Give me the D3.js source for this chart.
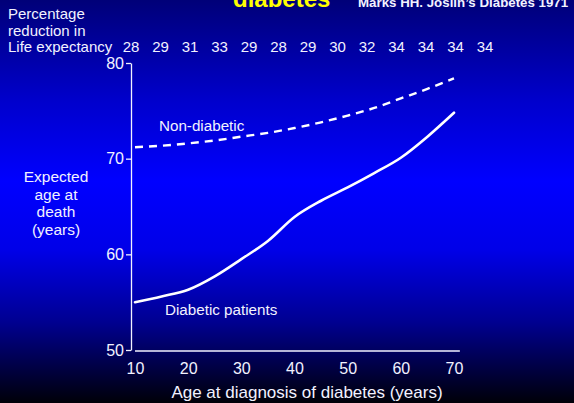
<!DOCTYPE html>
<html>
<head>
<meta charset="utf-8">
<script src="https://cdn.jsdelivr.net/npm/d3@7"></script>
<style>
  html, body { margin: 0; padding: 0; background: #000; }
  svg { display: block; }
  text { font-family: "Liberation Sans", Arial, sans-serif; fill: #f2f2ff; }
</style>
</head>
<body>
<svg id="chart" width="574" height="403"></svg>
<script>
// Age at diagnosis of diabetes (years), 5-year steps
const ages = [10, 15, 20, 25, 30, 35, 40, 45, 50, 55, 60, 65, 70];
// Expected age at death (years)
const nonDiabetic = [71.2, 71.35, 71.6, 71.9, 72.3, 72.7, 73.2, 73.8, 74.5, 75.3, 76.3, 77.3, 78.4];
const diabetic    = [55.0, 55.6, 56.3, 57.7, 59.5, 61.4, 63.9, 65.6, 67.0, 68.5, 70.1, 72.3, 74.8];
// Percentage reduction in life expectancy
const reduction = [28, 29, 31, 33, 29, 28, 29, 30, 32, 34, 34, 34, 34];
const xTicks = [10, 20, 30, 40, 50, 60, 70];
const yTicks = [50, 60, 70, 80];

const svg = d3.select("#chart");
const W = 574, H = 403;

// background gradient
const defs = svg.append("defs");
const grad = defs.append("linearGradient").attr("id", "bg")
  .attr("x1", 0).attr("y1", 0).attr("x2", 0).attr("y2", 1);
[[0, "#000078"], [0.25, "#0000cc"], [0.45, "#0000ff"], [0.62, "#0000e8"], [0.8, "#000090"], [1, "#000008"]]
  .forEach(([o, c]) => grad.append("stop").attr("offset", o).attr("stop-color", c));
svg.append("rect").attr("width", W).attr("height", H).attr("fill", "url(#bg)");

// header
svg.append("text").attr("x", 233).attr("y", 6.5)
  .style("font-size", "24px").style("font-weight", "bold").style("fill", "#ffff00")
  .text("diabetes");
svg.append("text").attr("x", 358).attr("y", 6.5)
  .style("font-size", "13.3px").style("font-weight", "bold")
  .text("Marks HH. Joslin\u2019s Diabetes 1971");

// scales
const x = d3.scaleLinear().domain([10, 70]).range([135, 454]);
const y = d3.scaleLinear().domain([50, 80]).range([350, 63]);

// y axis
const yAxis = svg.append("g").attr("transform", "translate(131,0)")
  .call(d3.axisLeft(y).tickValues(yTicks).tickSize(5).tickPadding(2).tickSizeOuter(0));
yAxis.selectAll("path, line").attr("stroke", "#f2f2ff").attr("stroke-width", 1.3);
yAxis.selectAll("text").style("font-size", "16px").style("fill", "#f2f2ff")
  .attr("font-family", null);

// x axis: labels only, baseline line drawn separately
const xAxis = svg.append("g").attr("transform", "translate(0,351)")
  .call(d3.axisBottom(x).tickValues(xTicks).tickSize(0).tickPadding(12));
xAxis.select(".domain").remove();
xAxis.selectAll("text").style("font-size", "16px").style("fill", "#f2f2ff")
  .attr("font-family", null);
svg.append("line")
  .attr("x1", x(10)).attr("x2", x(71.1)).attr("y1", 351).attr("y2", 351)
  .attr("stroke", "#f2f2ff").attr("stroke-width", 1.3);

// axis titles
svg.append("text").attr("x", 307).attr("y", 398).attr("text-anchor", "middle")
  .style("font-size", "17px").text("Age at diagnosis of diabetes (years)");
const yTitle = ["Expected", "age at", "death", "(years)"];
svg.append("g").selectAll("text").data(yTitle).join("text")
  .attr("x", 56).attr("y", (d, i) => 182 + i * 17.5).attr("text-anchor", "middle")
  .style("font-size", "15.5px").text(d => d);

// reduction row
const headLines = ["Percentage", "reduction in", "Life expectancy"];
svg.append("g").selectAll("text").data(headLines).join("text")
  .attr("x", 8).attr("y", (d, i) => 19 + i * 16.5)
  .style("font-size", "15px").text(d => d);
const px = d3.scalePoint().domain(d3.range(reduction.length)).range([131, 485]);
svg.append("g").selectAll("text").data(reduction).join("text")
  .attr("x", (d, i) => px(i)).attr("y", 52).attr("text-anchor", "middle")
  .style("font-size", "15px").text(d => d);

// curves
const line = d3.line().x(d => x(d[0])).y(d => y(d[1])).curve(d3.curveMonotoneX);
svg.append("path").datum(ages.map((a, i) => [a, nonDiabetic[i]]))
  .attr("d", line).attr("fill", "none").attr("stroke", "#ffffff")
  .attr("stroke-width", 2.4).attr("stroke-dasharray", "8,6");
svg.append("path").datum(ages.map((a, i) => [a, diabetic[i]]))
  .attr("d", line).attr("fill", "none").attr("stroke", "#ffffff")
  .attr("stroke-width", 2.6).attr("stroke-linecap", "round");

// series labels
svg.append("text").attr("x", 159).attr("y", 131).style("font-size", "15.2px").text("Non-diabetic");
svg.append("text").attr("x", 165).attr("y", 315).style("font-size", "15.2px").text("Diabetic patients");
</script>
</body>
</html>
